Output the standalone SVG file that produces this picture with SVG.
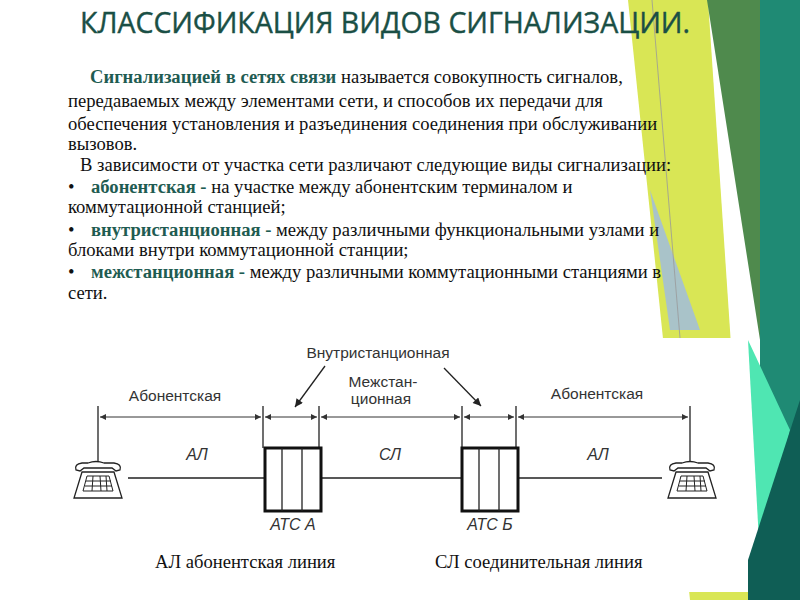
<svg xmlns="http://www.w3.org/2000/svg" width="800" height="600" viewBox="0 0 800 600">
<defs>
<style>
.t{font-family:"Liberation Serif",serif;font-size:18.6px;fill:#111}
.b{font-weight:bold;fill:#1f5c52}
.d{font-family:"Liberation Sans",Arial,sans-serif;font-size:15.5px;fill:#333}
.i{font-style:italic;font-size:16px}
.ln{stroke:#222;stroke-width:1.3;fill:none}
.ar{stroke:#333;stroke-width:1;marker-start:url(#a);marker-end:url(#a)}
.box{fill:#fff;stroke:#111;stroke-width:3}
</style>
<marker id="a" viewBox="0 0 10 10" refX="10" refY="5" markerWidth="9" markerHeight="6" orient="auto-start-reverse" markerUnits="userSpaceOnUse"><path d="M0,0 L10,5 L0,10 z" fill="#333"/></marker>
<marker id="p" viewBox="0 0 10 10" refX="10" refY="5" markerWidth="11" markerHeight="8" orient="auto" markerUnits="userSpaceOnUse"><path d="M0,0 L10,5 L0,10 z" fill="#222"/></marker>
<g id="phone">
<path d="M-22,-10 Q-24,-16 -16,-17 L-10,-17 Q-2,-20 6,-17 L16,-17 Q24,-16 22,-10 L18,-9 L14,-12 L-14,-12 L-18,-9 Z" fill="#fff" stroke="#222" stroke-width="1.3"/>
<path d="M-16,-8 L16,-8 L24,18 L-24,18 Z" fill="#fff" stroke="#222" stroke-width="1.3"/>
<path d="M-11,-4 L11,-4 L15,11 L-15,11 Z M-12,1 L13,1 M-13,6 L14,6 M-5,-4 L-6,11 M2,-4 L3,11 M8,-4 L9,11" fill="none" stroke="#222" stroke-width="1"/>
</g>
</defs>
<rect width="800" height="600" fill="#fff"/>
<g id="bg">
<polygon points="628,0 708,0 748,600 690,600" fill="#d9e655"/>
<polygon points="707,0 800,0 800,180 760,340" fill="#4f8a4d"/>
<polygon points="760,0 800,0 800,600 760,600" fill="#1f8a74"/>
<polygon points="748,340 790,430 760,560" fill="#4fe6b2"/>
<polygon points="800,400 800,600 735,600" fill="#0f5e55"/>
<polygon points="650,190 700,330 670,330" fill="#a9c3c9"/>
<line x1="652" y1="0" x2="680" y2="338" stroke="#999" stroke-width="0.8"/>
<polygon points="690,560 748,560 748,600 700,600" fill="#d9e655"/>
</g>
<text x="80" y="33" font-family="'Open Sans','Liberation Sans',sans-serif" font-size="28.5" fill="#1a4f45" stroke="#1a4f45" stroke-width="0.4">КЛАССИФИКАЦИЯ ВИДОВ СИГНАЛИЗАЦИИ.</text>
<g id="body">
<text class="t" x="90" y="83"><tspan class="b">Сигнализацией в сетях связи</tspan> называется совокупность сигналов,</text>
<text class="t" x="68" y="107">передаваемых между элементами сети, и способов их передачи для</text>
<text class="t" x="68" y="130">обеспечения установления и разъединения соединения при обслуживании</text>
<text class="t" x="68" y="150">вызовов.</text>
<text class="t" x="80" y="171">В зависимости от участка сети различают следующие виды сигнализации:</text>
<text class="t" x="68" y="193">•</text><text class="t" x="91" y="193"><tspan class="b">абонентская -</tspan> на участке между абонентским терминалом и</text>
<text class="t" x="68" y="213">коммутационной станцией;</text>
<text class="t" x="68" y="236">•</text><text class="t" x="91" y="236"><tspan class="b">внутристанционная -</tspan> между различными функциональными узлами и</text>
<text class="t" x="68" y="256">блоками внутри коммутационной станции;</text>
<text class="t" x="68" y="278">•</text><text class="t" x="91" y="278"><tspan class="b">межстанционная -</tspan> между различными коммутационными станциями в</text>
<text class="t" x="68" y="299">сети.</text>
</g>
<rect id="imgbg" x="62" y="338" width="686" height="254" fill="#fff"/>
<g id="connectors">
<path class="ln" d="M98,406 V463 M263,406 V448 M319,406 V448 M462,406 V448 M516,406 V448 M690,406 V463 M128,478 H265 M321,478 H462 M518,478 H662"/>
<line class="ar" x1="100" y1="417" x2="261" y2="417"/>
<line class="ar" x1="265" y1="417" x2="317" y2="417"/>
<line class="ar" x1="321" y1="417" x2="460" y2="417"/>
<line class="ar" x1="464" y1="417" x2="514" y2="417"/>
<line class="ar" x1="518" y1="417" x2="688" y2="417"/>
<line x1="325" y1="366" x2="295" y2="407" stroke="#222" stroke-width="1.3" marker-end="url(#p)"/>
<line x1="444" y1="368" x2="481" y2="406" stroke="#222" stroke-width="1.3" marker-end="url(#p)"/>
</g>
<g id="atsA"><rect class="box" x="265" y="448" width="56" height="63"/><path class="ln" d="M282,448 V511 M302,448 V511"/><text class="d i" x="293" y="530" text-anchor="middle">АТС А</text></g>
<g id="atsB"><rect class="box" x="462" y="448" width="56" height="63"/><path class="ln" d="M479,448 V511 M499,448 V511"/><text class="d i" x="490" y="530" text-anchor="middle">АТС Б</text></g>
<g id="phoneL"><use href="#phone" x="98" y="480"/></g>
<g id="phoneR"><use href="#phone" x="692" y="480"/></g>
<g id="labels">
<text class="d" x="175" y="401" text-anchor="middle">Абонентская</text>
<text class="d" x="378" y="358" text-anchor="middle">Внутристанционная</text>
<text class="d" x="383" y="387" text-anchor="middle">Межстан-</text>
<text class="d" x="381" y="404" text-anchor="middle">ционная</text>
<text class="d" x="597" y="399" text-anchor="middle">Абонентская</text>
<text class="d i" x="197" y="460" text-anchor="middle">АЛ</text>
<text class="d i" x="390" y="460" text-anchor="middle">СЛ</text>
<text class="d i" x="598" y="460" text-anchor="middle">АЛ</text>
<text class="t" x="155" y="568">АЛ абонентская линия</text>
<text class="t" x="435" y="568">СЛ соединительная линия</text>
</g>
</svg>
